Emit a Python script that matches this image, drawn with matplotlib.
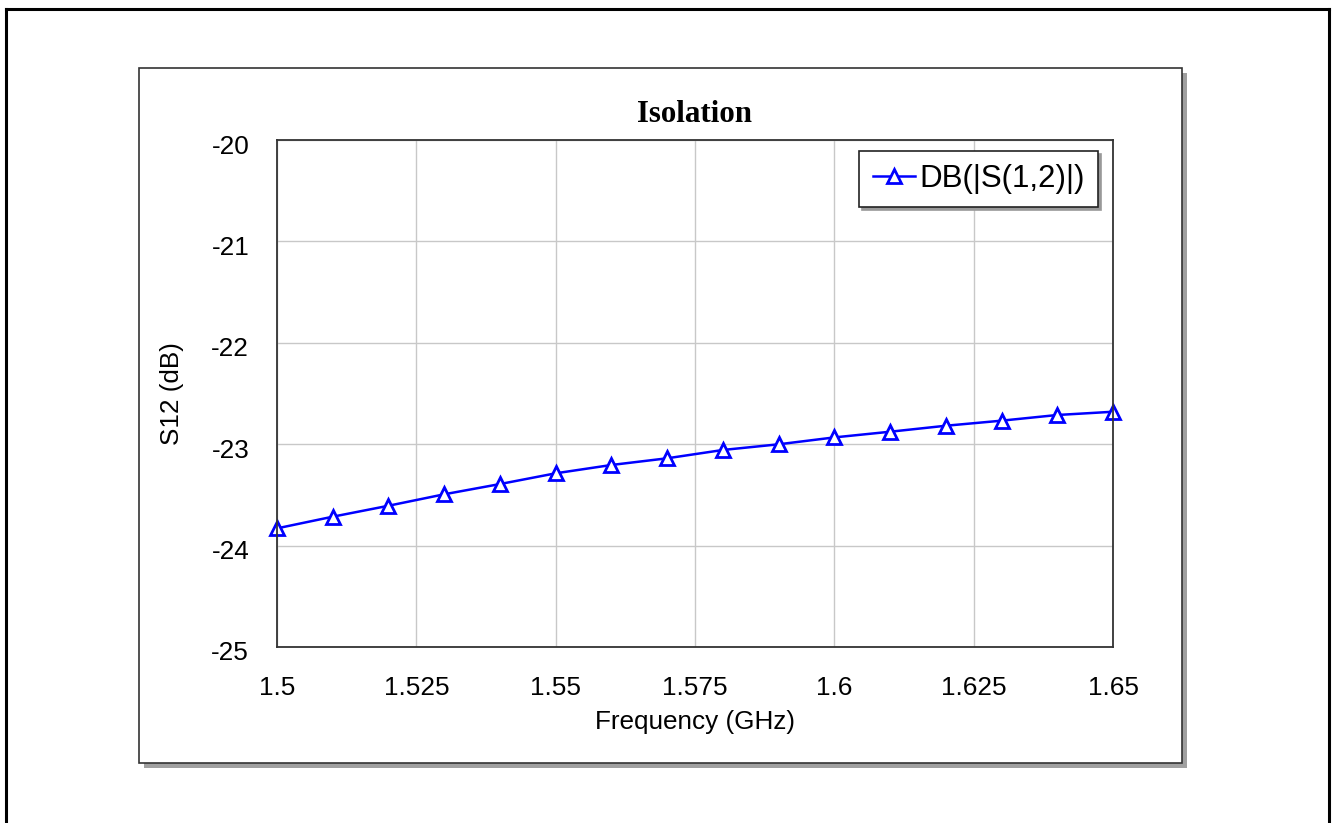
#!/usr/bin/env python3
"""Isolation plot, S12 vs frequency."""
import matplotlib
matplotlib.use("Agg")
import matplotlib.pyplot as plt
import matplotlib.transforms as mtransforms
from matplotlib.patches import Rectangle
from matplotlib.lines import Line2D

freq_ghz = [1.50, 1.51, 1.52, 1.53, 1.54, 1.55, 1.56, 1.57,
            1.58, 1.59, 1.60, 1.61, 1.62, 1.63, 1.64, 1.65]
s12_db = [-23.83, -23.715, -23.607, -23.494, -23.393, -23.287, -23.205, -23.139,
          -23.057, -23.001, -22.933, -22.877, -22.818, -22.768, -22.712, -22.68]
x_ticks = [1.5, 1.525, 1.55, 1.575, 1.6, 1.625, 1.65]
x_tick_labels = ["1.5", "1.525", "1.55", "1.575", "1.6", "1.625", "1.65"]
y_ticks = [-25, -24, -23, -22, -21, -20]

W, H = 1333, 823
plt.rcParams['font.family'] = ['Liberation Sans', 'DejaVu Sans']
plt.rcParams['axes.unicode_minus'] = False

fig = plt.figure(figsize=(W / 100, H / 100), dpi=100)
fig.patch.set_facecolor("white")

def fx(px):
    return px / W

def fy(py):
    return 1 - py / H

# outer frame (bottom runs off the image)
for xs, ys in [([6, 6], [9, 830]), ([6, 1329], [9, 9]), ([1329, 1329], [9, 830])]:
    fig.add_artist(Line2D([fx(v) for v in xs], [fy(v) for v in ys], color="black", lw=2.2))

# panel with drop shadow
fig.add_artist(Rectangle((fx(144), fy(768)), fx(1182 - 139), (763 - 68) / H,
                         facecolor="#a0a0a0", edgecolor="none", zorder=0))
fig.add_artist(Rectangle((fx(139), fy(763)), fx(1182 - 139), (763 - 68) / H,
                         facecolor="white", edgecolor="#333333", lw=1.2, zorder=0.5))

ax = fig.add_axes([fx(277), fy(647), fx(1113 - 277), (647 - 140) / H])
ax.set_zorder(2)
ax.plot(freq_ghz, s12_db, color="#0000ff", lw=1.8, marker="^", ms=9.5,
        mfc="white", mec="#0000ff", mew=2, label="DB(|S(1,2)|)", clip_on=False)

ax.set_xlim(1.5, 1.65)
ax.set_ylim(-25, -20)
ax.set_xticks(x_ticks)
ax.set_xticklabels(x_tick_labels)
ax.set_yticks(y_ticks)
ax.tick_params(length=0, labelsize=18.8, colors="black")
ax.tick_params(axis="x", pad=21)
ax.tick_params(axis="y", pad=20)
# the y labels sit a few pixels under their grid lines
shift = mtransforms.ScaledTranslation(0, -4 / 100, fig.dpi_scale_trans)
for lab in ax.get_yticklabels():
    lab.set_transform(lab.get_transform() + shift)
ax.grid(True, color="#c8c8c8", lw=1)
ax.set_axisbelow(True)
for sp in ax.spines.values():
    sp.set_color("#333333")
    sp.set_linewidth(1.3)

ax.set_xlabel("Frequency (GHz)", fontsize=18.8)
ax.xaxis.set_label_coords(0.5, (647 - 710) / 507)
ax.set_ylabel("S12 (dB)", fontsize=18.8)
ax.yaxis.set_label_coords((184 - 277) / 836, 0.5)

fig.text(fx(695), fy(115), "Isolation", ha="center", va="center",
         fontsize=22.2, fontweight="bold", family="Liberation Serif")

leg = ax.legend(loc="upper right", bbox_to_anchor=((1098 - 277) / 836, (647 - 151) / 507),
                borderaxespad=0, fontsize=22.5, fancybox=False, framealpha=1,
                edgecolor="#222222", handlelength=1.35, handletextpad=0.15,
                borderpad=0.42, shadow={"color": "#999999", "alpha": 1})
leg.get_frame().set_linewidth(1.2)

fig.savefig("out.png", dpi=100, facecolor="white")
